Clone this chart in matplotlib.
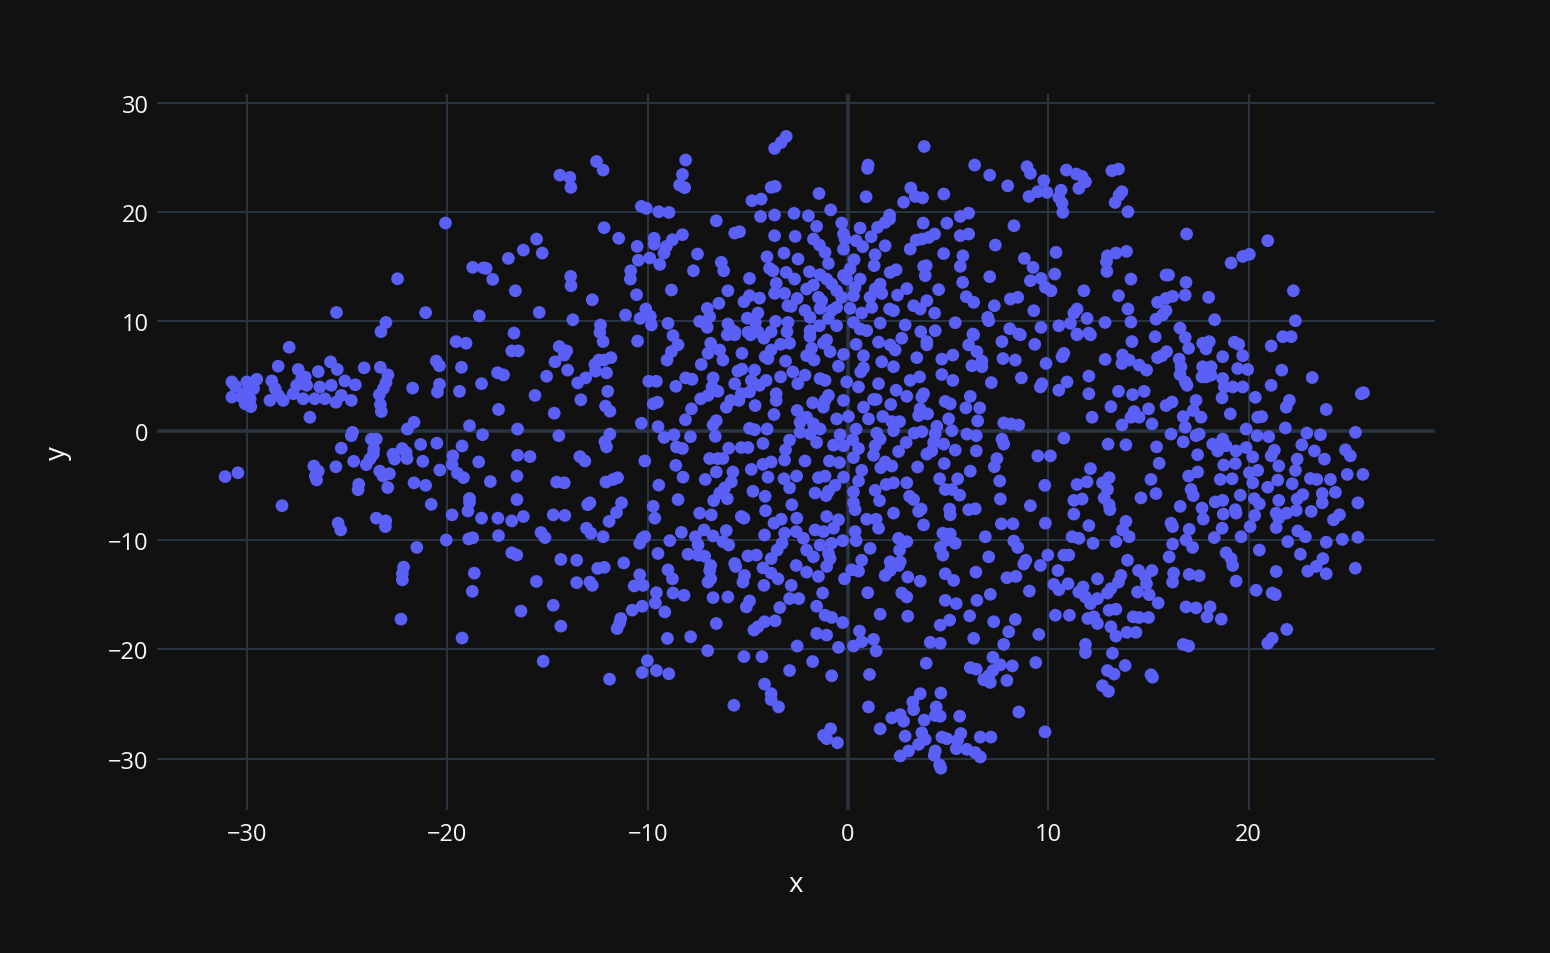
import matplotlib
matplotlib.use("Agg")
import matplotlib.pyplot as plt

# ---------------- data ----------------
x_ticks = [-30, -20, -10, 0, 10, 20]
y_ticks = [-30, -20, -10, 0, 10, 20, 30]
x_title = "x"
y_title = "y"

pts_far_left_top = [(-20.1,19.0),(-18.74,14.94),(-18.2,14.9),(-18.07,14.85),(-17.74,13.84),(-22.49,13.9),(-25.54,10.82),(-21.09,10.8),(-18.41,10.5),(-23.07,9.9),(-23.32,9.06)]

pts_far_left_mid = [(-19.57,8.15),(-19.07,8.0),(-27.9,7.63),(-28.45,5.9),(-27.45,5.6),(-27.1,4.9),(-26.45,5.4),(-25.84,6.3),(-25.5,5.6),(-24.16,5.75),(-23.35,5.8),(-22.97,5.1),(-23.07,4.4),(-23.2,3.85),(-23.4,3.3),(-23.35,2.4),(-23.3,1.75),(-21.74,3.9),(-20.56,6.37),(-20.4,5.94),(-19.3,5.8),(-20.4,4.25),(-20.5,3.54),(-19.4,3.6),(-18.3,4.3),(-17.5,5.3),(-17.2,5.1),(-17.45,1.94),
(-30.76,4.46),(-30.6,4.09),(-30.02,4.46),(-29.52,4.7),(-29.68,3.85),(-30.76,3.08),(-30.27,3.08),(-30.1,2.46),(-29.82,2.2),(-30.18,3.4),(-29.85,2.9),(-28.77,4.55),(-28.6,3.85),(-28.86,2.77),(-28.2,2.77),(-28.44,3.23),(-27.7,3.38),(-27.53,4.15),(-27.28,4.77),(-27.03,4.15),(-27.2,2.92),(-26.62,2.92),(-26.37,4.0),(-26.12,2.92),(-25.8,4.15),(-25.57,2.6),(-25.3,3.23),(-25.12,4.55),(-24.6,4.2),(-24.8,2.77),(-26.87,1.23),
(-24.74,-0.15),(-24.8,-0.46),(-25.3,-1.6),(-23.8,-0.77),(-23.55,-0.77),(-23.68,-1.7),(-23.7,-2.15),(-23.87,-2.6),(-24.05,-3.1),(-24.68,-2.8),(-26.67,-3.23),(-26.45,-3.7),(-26.6,-4.15),(-26.53,-4.5),(-25.57,-3.3),(-24.43,-4.9),(-24.46,-5.4),(-23.38,-3.7),(-23.22,-4.15),(-22.9,-3.94),(-22.98,-5.2),(-22.72,-2.15),(-22.64,-2.6),(-22.26,-1.63),(-22.06,-2.0),(-22.02,-2.55),(-22.0,0.15),(-21.67,0.77),(-21.34,-1.26),(-21.23,-2.8),(-20.53,-1.14),(-20.38,-3.6),(-21.67,-4.77),(-21.09,-5.0),(-19.73,-2.3),(-19.77,-3.08),(-19.27,-1.4),(-19.5,-3.9),(-19.2,-4.3),(-18.44,-2.86),(-17.86,-4.65),(-18.9,0.46),(-18.25,-0.37),(-20.81,-6.74),(-18.9,-6.2),(-18.9,-6.55),(-18.98,-7.35),(-19.77,-7.7),(-18.3,-8.0),(-17.48,-8.0),(-17.45,-9.6),(-23.55,-8.0),(-23.08,-8.25),(-23.1,-8.77),(-25.46,-8.46),(-25.33,-9.08),(-28.26,-6.86),(-31.1,-4.2),(-30.46,-3.85),(-21.53,-10.68),(-20.06,-10.0),(-18.94,-9.9),(-18.74,-9.8)]

pts_far_left_low = [(-22.19,-12.48),(-22.25,-13.09),(-22.25,-13.64),(-22.32,-17.24),(-18.66,-13.03),(-18.76,-14.7),(-19.27,-18.97)]

pts_left_top = [(-3.09,26.92),(-3.34,26.37),(-3.67,25.82),(-8.11,24.76),(-12.56,24.63),(-12.23,23.84),(-14.39,23.38),(-13.89,23.17),(-13.84,22.26),(-8.27,23.44),(-8.41,22.47),(-8.16,22.23),(-3.84,22.26),(-3.64,22.35),(-4.8,21.04),(-4.34,21.19),(-10.32,20.52),(-10.07,20.34),(-9.45,20.03),(-8.94,19.97),(-6.58,19.2),(-4.37,19.6),(-3.67,19.73),(-2.7,19.88),(-12.18,18.57),(-5.66,18.08),(-5.42,18.2),(-11.45,17.6),(-15.55,17.53),(-16.21,16.52),(-15.27,16.25),(-16.96,15.76),(-9.68,17.6),(-9.68,17.07),(-9.07,16.86),(-8.77,17.47),(-8.27,17.93),(-9.19,16.25),(-10.53,16.86),(-10.47,15.6),(-9.9,15.8),(-9.4,15.21),(-10.85,14.63),(-10.87,13.87),(-7.52,16.16),(-6.33,15.4),(-6.21,14.63),(-7.72,14.63),(-4.05,15.91),(-3.2,16.25),(-3.67,17.84),(-2.64,17.78),(-2.5,15.7),(-3.92,14.85),(-3.75,14.63),(-3.09,14.48),(-2.67,13.87),(-4.92,13.93),(-3.59,13.48),(-3.67,12.56),(-3.17,12.56),(-2.54,12.1),(-3.0,11.43),(-2.84,11.37),(-13.85,14.12),(-13.83,13.26),(-16.61,12.8),(-12.77,11.98),(-10.56,12.44),(-8.82,12.87),(-6.0,12.8),(-4.92,12.35),(-5.2,11.8),(-4.42,12.13),(-6.45,11.65),(-7.03,11.19),(-6.91,10.43),(-7.41,10.0),(-7.03,9.45),(-5.03,10.3),(-4.5,10.76),(-4.63,9.91),(-3.62,10.0),(-3.0,9.91),(-6.0,9.76),(-5.86,9.3),(-5.66,9.05),(-5.0,9.0),(-4.5,9.05),(-3.84,9.05),(-3.05,9.05),(-15.42,10.82),(-13.74,10.15),(-11.11,10.58),(-10.1,11.13),(-9.87,10.46),(-10.38,10.27),(-9.82,9.67),(-8.99,9.82),(-12.36,9.67),(-12.39,9.0),(-8.74,8.7),(-16.68,8.93)]

pts_left_mid = [(-12.23,8.15),(-10.51,8.2),(-8.49,7.85),(-8.82,7.23),(-9.04,6.46),(-6.86,8.0),(-6.99,7.08),(-6.41,7.38),(-6.25,6.46),(-6.03,8.77),(-5.66,8.77),(-4.87,8.77),(-4.2,8.46),(-5.3,7.08),(-7.33,6.06),(-16.79,7.3),(-16.46,7.3),(-14.42,7.7),(-14.05,7.3),(-14.17,6.92),(-14.63,6.3),(-15.05,4.98),(-14.0,5.54),(-12.64,6.06),(-12.44,6.46),(-12.19,6.46),(-11.84,6.68),(-12.61,5.45),(-12.06,5.29),(-13.1,4.83),(-13.5,4.37),(-12.0,3.6),(-15.63,3.23),(-13.34,2.83),(-14.67,1.6),(-12.11,2.25),(-11.89,1.78),(-9.95,4.52),(-9.57,4.52),(-9.73,2.46),(-9.52,2.6),(-8.6,4.06),(-8.11,4.83),(-7.79,4.7),(-7.36,2.92),(-6.99,3.23),(-6.74,4.83),(-6.79,4.0),(-6.5,3.6),(-7.82,2.0),(-8.12,1.0),(-6.58,0.92),(-6.74,0.52),(-6.08,2.15),(-5.86,2.77),(-5.33,3.38),(-5.45,2.77),(-4.92,3.54),(-5.66,4.3),(-5.5,5.45),(-5.3,5.63),(-4.83,4.6),(-4.67,5.54),(-4.42,4.15),(-4.09,4.6),(-4.64,2.3),(-4.14,6.77),(-3.84,7.38),(-4.0,6.6),(-3.37,7.9),(-2.92,8.0),(-3.12,6.37),(-3.37,4.92),(-2.76,5.38),(-2.51,4.3),(-3.59,3.38),(-3.59,2.77),(-3.7,1.48),(-2.54,1.85),(-10.32,0.68),(-9.49,0.37),(-9.19,-0.62),(-8.69,-0.37),(-7.87,-0.55),(-6.63,-0.52),(-4.92,0.22),(-4.67,0.09),(-4.04,0.15),(-16.5,0.15),(-14.44,-0.46),(-11.89,-0.31),(-12.14,-1.0),(-12.06,-1.48),(-8.57,-1.48),(-8.27,-1.63),(-5.96,-1.6),(-5.33,-1.54),(-5.0,-1.54),(-4.25,-1.17),(-2.92,-0.86),(-3.12,-1.75),(-3.17,-2.68),(-16.5,-2.25),(-15.88,-2.37),(-13.39,-2.37),(-13.14,-2.77),(-10.15,-2.77),(-6.91,-2.55),(-6.25,-2.55),(-6.5,-2.55),(-8.6,-3.17),(-6.58,-3.78),(-5.75,-3.78),(-4.83,-3.54),(-4.25,-3.08),(-3.84,-2.86),(-4.0,-4.25),(-3.2,-4.4),(-2.57,-4.15),(-16.53,-4.15),(-8.24,-4.25),(-7.13,-4.46),(-5.83,-4.68),(-6.16,-5.23),(-6.41,-5.7),(-6.03,-6.22),(-6.71,-6.4),(-4.75,-5.54),(-4.14,-6.0),(-2.92,-5.23),(-14.55,-4.7),(-14.17,-4.77),(-12.09,-4.7),(-11.73,-4.46),(-11.51,-4.3),(-9.45,-4.98),(-16.53,-6.3),(-12.89,-6.6),(-13.0,-6.77),(-11.31,-6.6),(-11.56,-7.48),(-11.93,-8.3),(-8.49,-6.3),(-9.73,-6.92),(-9.65,-8.0),(-7.41,-7.54),(-6.83,-7.7),(-5.33,-7.85),(-5.2,-8.0),(-4.12,-7.32),(-2.81,-6.77),(-2.56,-8.0),(-3.7,-8.46),(-3.34,-8.1),(-16.79,-8.25),(-16.21,-7.85),(-14.72,-7.7),(-14.14,-7.75),(-15.33,-9.32),(-15.13,-9.78),(-13.06,-8.92),(-12.84,-9.38),(-12.23,-9.7),(-8.32,-9.3),(-7.19,-9.08),(-7.62,-9.7),(-7.49,-10.46),(-6.74,-9.63),(-6.08,-9.14),(-6.25,-10.15),(-5.96,-10.46),(-4.17,-9.54),(-3.17,-9.38),(-3.3,-10.3),(-3.54,-10.92),(-3.84,-11.7),(-10.28,-9.85),(-10.15,-9.7),(-10.4,-10.3),(-8.9,-10.06),(-9.49,-11.23),(-7.99,-11.3),(-7.49,-11.38),(-7.16,-11.48),(-5.0,-11.45),(-4.58,-11.38),(-16.79,-11.17),(-16.54,-11.38),(-14.34,-11.78),(-13.55,-11.85),(-11.2,-12.1),(-5.66,-12.15),(-2.59,-9.23)]

pts_left_low = [(-12.5,-12.6),(-12.17,-12.5),(-15.56,-13.79),(-13.55,-13.9),(-12.89,-13.85),(-12.77,-14.15),(-10.4,-13.18),(-10.68,-14.2),(-10.23,-14.15),(-8.99,-12.73),(-8.77,-13.55),(-8.74,-14.85),(-8.19,-15.06),(-9.57,-14.82),(-9.62,-15.76),(-9.15,-16.58),(-10.28,-16.06),(-10.78,-16.42),(-11.35,-17.18),(-11.4,-17.58),(-11.53,-18.1),(-14.72,-15.97),(-16.33,-16.5),(-14.34,-17.88),(-6.86,-12.33),(-6.91,-12.79),(-6.86,-13.55),(-6.99,-13.85),(-5.61,-12.42),(-4.25,-12.55),(-5.17,-13.24),(-5.25,-13.85),(-3.84,-13.03),(-3.5,-13.55),(-4.2,-14.15),(-2.84,-14.15),(-2.59,-12.33),(-6.74,-15.27),(-6.0,-15.21),(-4.92,-15.58),(-5.08,-16.12),(-2.92,-15.36),(-3.41,-16.18),(-2.46,-15.36),(-6.58,-17.64),(-7.86,-18.85),(-9.02,-19.0),(-4.17,-17.48),(-4.5,-17.94),(-4.7,-18.24),(-3.64,-17.39),(-7.01,-20.12),(-5.2,-20.67),(-4.3,-20.67),(-2.54,-19.7),(-2.92,-21.94),(-15.22,-21.09),(-10.02,-21.03),(-10.28,-22.12),(-9.57,-21.94),(-8.95,-22.24),(-11.91,-22.73),(-4.17,-23.18),(-3.84,-24.06),(-3.84,-24.6),(-3.47,-25.27),(-5.7,-25.12)]

pts_mid_top = [(3.8,26.0),(1.0,24.3),(0.97,24.0),(-1.45,21.7),(0.9,21.4),(3.13,22.2),(3.35,21.43),(3.72,21.3),(2.77,20.9),(4.78,21.65),(6.32,24.3),(7.07,23.38),(7.97,22.4),(8.93,24.15),(9.1,23.54),(9.77,22.87),(9.47,21.86),(9.03,21.43),(9.93,21.8),(10.63,22.0),(10.52,21.34),(10.68,20.82),(10.72,19.97),(10.9,23.84),(11.4,23.48),(11.68,23.26),(11.85,22.77),(11.52,22.17),(-0.87,20.2),(-1.98,19.66),(-1.57,18.69),(-0.32,19.0),(-0.23,17.99),(-0.15,17.53),(-1.73,17.53),(-1.43,16.98),(-1.15,16.31),(-0.23,16.6),(0.4,17.38),(0.73,16.83),(0.6,18.54),(1.15,17.74),(1.47,18.6),(1.85,19.05),(2.07,19.73),(2.07,19.36),(1.85,16.92),(1.35,16.1),(0.3,15.64),(-0.98,15.3),(1.3,15.1),(0.1,14.8),(-1.93,14.54),(-1.4,14.27),(-1.07,13.87),(-0.82,13.41),(-0.57,12.8),(-0.32,12.2),(-0.23,14.2),(-0.07,13.87),(0.6,13.87),(-2.07,12.96),(-1.73,13.32),(-1.48,12.2),(-1.32,11.89),(-1.4,11.19),(0.35,13.1),(0.27,12.35),(0.1,11.19),(1.35,12.96),(1.6,13.41),(1.68,12.56),(1.1,12.2),(1.18,11.28),(2.1,14.48),(2.4,14.72),(2.47,12.4),(2.93,13.0),(-2.15,11.0),(-1.9,10.37),(-0.82,11.0),(-0.57,11.28),(-0.98,10.27),(0.68,10.76),(0.27,9.9),(-1.43,9.6),(-1.9,9.15),(-0.57,9.6),(0.6,9.3),(0.93,9.15),(1.6,9.85),(2.07,11.13),(2.27,10.98),(2.85,9.67),(3.27,11.43),(3.6,11.13),(3.93,11.89),(4.32,10.76),(3.63,9.06),(4.35,9.15),(4.52,12.9),(3.75,18.99),(4.93,18.99),(3.1,16.62),(3.4,17.44),(3.68,17.53),(4.02,17.68),(4.32,17.99),(5.6,19.6),(6.02,19.9),(5.6,17.84),(6.02,17.99),(4.77,16.2),(5.73,16.0),(5.6,15.03),(3.77,15.03),(3.9,15.09),(3.85,14.18),(5.72,13.57),(5.9,12.26),(6.27,11.74),(7.07,14.09),(7.35,16.98),(8.28,18.75),(7.3,11.43),(8.1,12.04),(8.47,12.2),(6.97,10.37),(7.02,10.06),(5.35,9.88),(6.23,8.84),(8.07,9.33),(8.52,8.84),(8.8,15.76),(9.23,14.94),(9.1,13.72),(9.63,13.93),(9.85,13.11),(10.13,12.8),(10.32,14.33),(10.38,16.31),(9.27,10.98),(9.63,9.45),(10.52,9.6),(11.1,9.82),(11.43,11.13),(11.27,10.76),(11.77,12.8),(11.93,10.27),(11.43,8.84),(12.02,8.93)]

pts_mid_mid = [(-1.9,8.62),(-1.82,7.54),(-2.07,6.86),(-1.7,6.46),(-2.15,5.08),(-1.07,8.3),(-0.9,7.23),(-1.23,8.0),(-0.23,6.98),(-0.48,5.9),(-1.4,4.77),(-1.15,4.6),(-0.07,4.46),(0.4,7.9),(0.77,6.86),(0.77,5.75),(0.63,5.38),(0.52,4.0),(1.52,8.1),(2.1,7.85),(2.35,7.38),(1.68,6.3),(2.27,5.85),(1.52,4.3),(2.68,8.46),(3.43,6.68),(3.93,8.15),(3.93,7.85),(3.1,4.6),(3.57,4.92),(4.68,6.55),(5.23,6.92),(4.68,5.14),(5.23,4.6),(6.02,7.85),(6.43,7.23),(6.68,6.37),(6.18,5.94),(6.68,5.85),(6.27,8.77),(7.68,8.15),(7.73,6.6),(8.35,6.46),(8.6,8.77),(9.32,7.9),(9.88,6.15),(10.68,6.77),(10.77,7.08),(10.93,4.46),(10.52,3.7),(9.68,4.3),(9.6,4.0),(12.02,5.0),(12.02,3.38),(11.43,8.77),(12.1,8.77),(7.15,4.4),(8.65,4.83),(2.4,3.7),(2.93,3.14),(3.68,3.08),(3.77,3.38),(-1.77,2.55),(-1.23,2.15),(-0.98,3.23),(-1.15,2.77),(-0.23,2.77),(0.77,2.15),(1.27,2.86),(1.4,2.86),(2.13,2.4),(3.6,2.0),(3.52,1.38),(3.97,1.54),(4.85,2.68),(5.1,2.46),(6.1,3.14),(5.88,2.09),(6.57,2.09),(6.47,0.89),(5.02,1.08),(5.18,0.0),(-2.07,1.23),(-2.4,0.77),(-1.73,0.62),(-1.4,0.15),(-1.9,-0.31),(-1.57,-1.08),(-2.4,-0.15),(-0.57,1.08),(0.02,1.3),(0.4,0.15),(1.02,1.08),(1.73,1.3),(2.18,0.83),(2.57,0.83),(2.27,0.0),(1.43,-0.22),(1.6,-0.77),(1.35,-1.38),(3.3,-0.22),(3.68,-0.09),(4.43,0.4),(4.35,-0.31),(4.27,-1.08),(4.18,-1.85),(3.93,-2.15),(4.77,-1.23),(2.9,-1.08),(2.52,-1.9),(-0.4,-0.37),(-0.73,-1.32),(-0.23,-1.38),(0.23,-0.83),(0.52,-1.63),(0.27,-2.46),(1.27,-2.25),(5.35,-1.78),(5.93,-0.31),(6.4,-0.46),(6.4,-1.85),(7.77,0.71),(8.13,0.62),(8.52,0.52),(7.68,-0.77),(7.77,-1.23),(10.77,-0.68),(12.18,1.23),(-2.15,-2.77),(-0.93,-2.77),(-0.43,-2.92),(1.85,-2.86),(2.18,-3.23),(1.63,-3.38),(3.47,-3.32),(4.8,-3.0),(7.43,-2.55),(7.3,-3.3),(9.47,-2.3),(10.1,-2.3),(6.1,-3.7),(0.68,-3.63),(0.52,-4.6),(-0.23,-4.25),(-0.65,-5.0),(-0.98,-5.54),(-1.1,-5.94),(-1.48,-4.3),(-1.15,-4.15),(-1.65,-5.7),(0.27,-5.6),(0.27,-6.6),(0.35,-7.23),(1.35,-5.45),(1.57,-6.4),(1.9,-4.92),(2.27,-4.77),(2.93,-4.77),(3.07,-6.0),(3.27,-6.3),(4.57,-4.4),(4.85,-5.38),(5.18,-5.38),(5.57,-5.9),(5.47,-4.4),(7.57,-4.6),(7.6,-6.25),(9.82,-5.0),(11.43,-4.92),(11.93,-4.68),(12.1,-3.47),(11.27,-6.37),(11.68,-6.25),(9.1,-6.86),(11.27,-7.63),(12.02,-8.68),(9.85,-8.46),(-1.07,-7.85),(-0.48,-8.15),(-0.73,-8.92),(-1.65,-9.08),(-1.23,-9.23),(-2.23,-9.85),(-2.07,-10.92),(-1.4,-10.46),(-0.98,-11.23),(-0.82,-10.3),(-0.27,-10.06),(0.35,-9.23),(0.4,-10.06),(0.93,-8.1),(1.4,-8.1),(1.52,-8.92),(2.27,-7.54),(3.65,-7.17),(3.52,-7.38),(3.77,-8.62),(5.07,-7.17),(5.1,-7.7),(6.02,-7.23),(6.35,-7.14),(7.65,-8.52),(8.23,-8.52),(6.85,-9.7),(4.73,-9.38),(5.1,-9.45),(4.93,-10.0),(4.6,-10.68),(4.73,-11.38),(5.35,-10.3),(2.52,-9.85),(2.93,-10.15),(2.57,-10.92),(1.1,-10.77),(0.68,-11.85),(8.27,-10.09),(8.47,-10.68),(7.02,-11.54),(8.87,-11.85),(9.97,-11.38),(10.77,-11.38),(11.02,-11.38),(11.18,-9.7),(11.52,-9.85),(12.23,-10.3),(-0.9,-11.7),(-1.73,-11.54),(2.1,-12.0),(2.6,-12.0)]

pts_mid_low = [(-2.07,-12.94),(-1.48,-13.33),(-1.07,-12.42),(0.18,-12.73),(0.52,-12.85),(-0.18,-13.55),(1.85,-13.24),(2.1,-12.79),(2.52,-12.33),(2.98,-13.39),(3.6,-13.76),(4.85,-13.09),(5.27,-13.7),(6.38,-12.94),(7.93,-13.45),(8.38,-13.33),(8.77,-12.2),(9.6,-12.33),(10.48,-12.79),(10.27,-14.06),(10.52,-14.55),(10.98,-14.0),(11.73,-14.3),(11.52,-14.76),(11.85,-15.21),(12.1,-15.82),(12.27,-17.03),(11.97,-17.18),(9.05,-14.67),(0.98,-14.82),(2.68,-14.85),(2.93,-15.21),(-1.57,-16.06),(-1.27,-14.85),(-1.15,-16.88),(-0.82,-17.09),(-0.27,-17.55),(1.6,-16.79),(2.98,-16.97),(4.85,-15.52),(5.4,-15.82),(4.6,-17.79),(5.07,-17.33),(6.43,-15.52),(6.07,-16.94),(7.1,-14.97),(7.27,-17.48),(8.35,-17.27),(8.02,-18.39),(9.52,-18.64),(10.35,-16.88),(11.05,-16.88),(-1.57,-18.55),(-1.07,-18.7),(0.57,-18.33),(0.68,-19.3),(0.27,-19.7),(1.27,-19.09),(1.4,-20.15),(-0.48,-19.82),(4.1,-19.36),(4.6,-19.45),(6.27,-19.0),(7.77,-19.55),(11.85,-19.55),(11.85,-20.3),(-1.77,-21.12),(-0.82,-22.42),(1.07,-22.3),(3.9,-21.27),(7.23,-20.73),(6.1,-21.67),(6.4,-21.82),(7.6,-21.42),(8.2,-21.52),(7.23,-21.94),(7.02,-22.42),(6.77,-22.79),(7.1,-23.03),(7.93,-22.85),(9.37,-21.21),(8.52,-25.73),(9.83,-27.55),(1.02,-25.27),(3.6,-24.06),(4.63,-24.0),(3.23,-24.82),(3.27,-25.52),(4.4,-25.27),(4.6,-26.12),(4.35,-26.06),(5.57,-26.12),(2.18,-26.27),(2.6,-25.97),(2.77,-26.58),(3.8,-26.48),(1.6,-27.27),(-0.87,-27.27),(-1.23,-27.88),(-1.07,-28.18),(-0.53,-28.55),(2.85,-27.94),(3.68,-27.64),(3.85,-28.24),(3.52,-28.7),(4.68,-28.03),(4.93,-28.18),(5.63,-27.7),(5.47,-28.3),(5.4,-29.09),(6.6,-28.03),(7.13,-28.03),(3.02,-29.3),(2.6,-29.76),(4.35,-29.3),(4.3,-29.7),(5.93,-29.15),(6.35,-29.45),(6.6,-29.85),(4.57,-30.58),(4.63,-30.88)]

pts_right_top = [(13.17,23.78),(13.5,23.93),(13.67,21.86),(13.53,21.55),(13.33,20.88),(13.97,20.03),(16.9,17.99),(20.95,17.38),(19.12,15.34),(19.7,15.94),(20.03,16.13),(22.23,12.8),(12.95,16.0),(13.37,16.25),(13.9,16.4),(12.9,15.45),(12.92,14.57),(15.87,14.24),(16.0,14.24),(14.12,13.87),(16.87,13.57),(16.83,12.4),(13.5,12.35),(15.45,11.74),(15.87,12.1),(16.2,12.29),(15.87,10.98),(15.7,10.58),(13.97,11.13),(12.83,9.9),(14.12,9.94),(15.37,10.2),(16.57,9.39),(18.0,12.2),(18.3,10.15),(22.33,10.06)]

pts_right_mid = [(14.17,8.15),(15.33,8.6),(16.83,8.52),(17.7,8.0),(18.03,8.15),(17.87,7.48),(17.0,7.54),(19.28,8.1),(19.5,7.9),(21.12,7.75),(21.7,8.6),(22.12,8.6),(12.83,6.52),(13.7,6.92),(14.03,6.46),(13.67,6.15),(14.53,6.0),(14.9,5.54),(15.45,6.68),(15.9,7.23),(15.67,6.86),(16.53,6.55),(16.62,5.85),(16.57,5.14),(16.83,4.46),(16.92,4.15),(17.7,5.85),(18.12,5.85),(17.87,4.92),(17.67,4.92),(18.12,5.08),(18.7,6.77),(19.7,6.86),(19.45,5.69),(19.95,5.6),(18.7,4.77),(18.78,4.0),(19.2,4.0),(19.7,4.0),(21.12,4.15),(21.65,5.54),(23.17,4.86),(25.62,3.38),(25.73,3.48),(22.03,2.77),(21.87,2.15),(23.87,1.94),(20.33,3.05),(20.45,1.23),(20.65,1.29),(18.67,3.0),(19.08,1.54),(13.5,3.6),(14.2,3.3),(14.78,3.6),(13.12,2.2),(14.28,1.75),(14.12,1.23),(14.53,1.23),(15.0,2.0),(15.17,0.62),(13.67,0.52),(15.87,2.3),(16.17,2.62),(16.73,1.29),(16.83,0.31),(17.37,2.77),(17.23,1.85),(17.62,1.23),(16.12,-0.31),(16.73,-1.02),(17.37,-0.46),(17.53,-0.31),(19.87,0.15),(20.42,-0.46),(21.0,-0.55),(21.83,0.25),(22.9,-0.22),(23.58,-0.37),(25.33,-0.15),(12.98,-1.23),(13.87,-1.29),(15.4,-1.48),(18.2,-1.23),(18.7,-0.77),(18.87,-1.38),(18.45,-1.85),(19.37,-1.85),(19.87,-1.54),(20.2,-2.4),(17.45,-2.2),(15.53,-2.98),(18.75,-3.14),(19.33,-3.0),(21.28,-1.78),(21.12,-2.3),(22.65,-1.29),(23.28,-1.85),(22.42,-2.6),(23.78,-2.6),(24.83,-1.75),(25.07,-2.3),(21.5,-3.23),(22.33,-3.63),(20.03,-3.85),(20.45,-3.63),(20.2,-4.77),(17.45,-3.78),(17.0,-4.15),(18.58,-4.46),(19.17,-4.4),(21.45,-4.52),(20.95,-5.17),(22.17,-4.86),(23.08,-4.37),(23.4,-4.46),(24.08,-4.46),(24.92,-4.0),(25.7,-4.0),(24.33,-5.63),(15.12,-4.46),(15.37,-5.75),(14.62,-6.15),(17.12,-5.38),(17.23,-5.94),(16.58,-6.92),(17.67,-7.08),(17.73,-8.09),(18.33,-6.52),(18.7,-6.37),(19.58,-5.9),(18.73,-7.63),(19.33,-7.23),(19.37,-7.54),(20.28,-6.22),(20.53,-6.7),(21.5,-6.37),(20.3,-7.75),(21.37,-7.54),(21.5,-8.0),(21.37,-8.86),(21.9,-7.54),(22.37,-7.29),(22.42,-6.25),(22.7,-5.85),(23.12,-7.38),(23.67,-5.75),(23.67,-6.6),(25.45,-6.6),(24.23,-8.15),(24.53,-7.69),(20.07,-8.77),(18.67,-8.92),(18.28,-9.78),(19.62,-9.7),(22.45,-9.17),(22.83,-9.7),(21.95,-10.15),(23.87,-10.2),(24.67,-9.94),(25.45,-9.75),(20.53,-10.92),(22.58,-11.3),(23.7,-11.7),(13.03,-4.3),(12.7,-4.77),(12.95,-5.38),(12.78,-6.15),(13.03,-6.77),(13.07,-7.23),(13.87,-8.3),(13.7,-9.08),(14.03,-9.7),(13.37,-10.15),(16.12,-8.46),(16.2,-8.77),(16.2,-10.37),(17.03,-9.02),(16.87,-10.0),(17.2,-10.68),(16.03,-11.54),(13.95,-11.85),(18.87,-11.17),(19.12,-11.7)]

pts_right_low = [(12.45,-13.55),(13.62,-13.24),(13.5,-13.85),(13.12,-14.45),(12.95,-14.85),(12.45,-15.36),(14.5,-12.79),(14.83,-13.33),(14.9,-14.0),(15.17,-12.79),(14.45,-14.76),(15.03,-15.0),(15.48,-15.76),(13.03,-16.42),(13.37,-16.33),(12.45,-17.64),(14.23,-17.03),(14.53,-17.09),(15.0,-17.09),(13.12,-17.94),(13.37,-18.79),(13.92,-18.45),(14.37,-18.45),(16.25,-13.03),(16.2,-13.85),(17.03,-13.15),(17.53,-13.27),(16.87,-16.12),(17.37,-16.21),(18.07,-16.12),(17.92,-17.03),(18.63,-17.24),(16.73,-19.55),(17.0,-19.7),(19.2,-12.33),(19.37,-13.76),(20.37,-14.6),(21.17,-14.85),(21.33,-15.0),(21.37,-12.88),(22.95,-12.85),(23.37,-12.42),(23.87,-13.09),(25.32,-12.58),(21.9,-18.18),(21.17,-19.0),(20.95,-19.45),(13.2,-20.36),(13.83,-21.48),(12.95,-21.94),(13.28,-22.27),(15.12,-22.33),(15.2,-22.55),(12.7,-23.33),(13.0,-23.85)]

regions = [pts_far_left_top, pts_far_left_mid, pts_far_left_low,
           pts_left_top, pts_left_mid, pts_left_low,
           pts_mid_top, pts_mid_mid, pts_mid_low,
           pts_right_top, pts_right_mid, pts_right_low]
xs = [p[0] for r in regions for p in r]
ys = [p[1] for r in regions for p in r]

# ---------------- style ----------------
BG = "#111111"
GRID = "#283442"
MARK = "#5a5ff6"
TXT = "#f2f5fa"

plt.rcParams['font.family'] = ['Open Sans', 'DejaVu Sans']

W, H = 1550, 954
fig = plt.figure(figsize=(W / 100, H / 100), dpi=100, facecolor=BG)
L, R, T, B = 157, 1435, 95, 811
ax = fig.add_axes([L / W, 1 - B / H, (R - L) / W, (B - T) / H])
ax.set_facecolor(BG)
ax.set_xlim(-34.5, 29.3)
ax.set_ylim(-34.7, 30.8)

for s in ax.spines.values():
    s.set_visible(False)

ax.set_xticks(x_ticks)
ax.set_yticks(y_ticks)
ax.grid(True, color=GRID, linewidth=1.45, zorder=0)
ax.set_axisbelow(True)
ax.axhline(0, color=GRID, linewidth=2.6, zorder=1)
ax.axvline(0, color=GRID, linewidth=2.6, zorder=1)
ax.tick_params(axis='both', length=0, labelsize=17, labelcolor=TXT)
ax.tick_params(axis='x', pad=9)
ax.tick_params(axis='y', pad=6)

ax.scatter(xs, ys, s=84, c=MARK, edgecolors='none', zorder=3)

fig.text((L + R) / 2 / W, 1 - 885 / H, x_title, ha='center', va='center',
         fontsize=20, color=TXT)
fig.text(58 / W, 1 - (T + B) / 2 / H, y_title, ha='center', va='center',
         rotation=90, fontsize=20, color=TXT)

fig.savefig("out.png", dpi=100, facecolor=BG)
